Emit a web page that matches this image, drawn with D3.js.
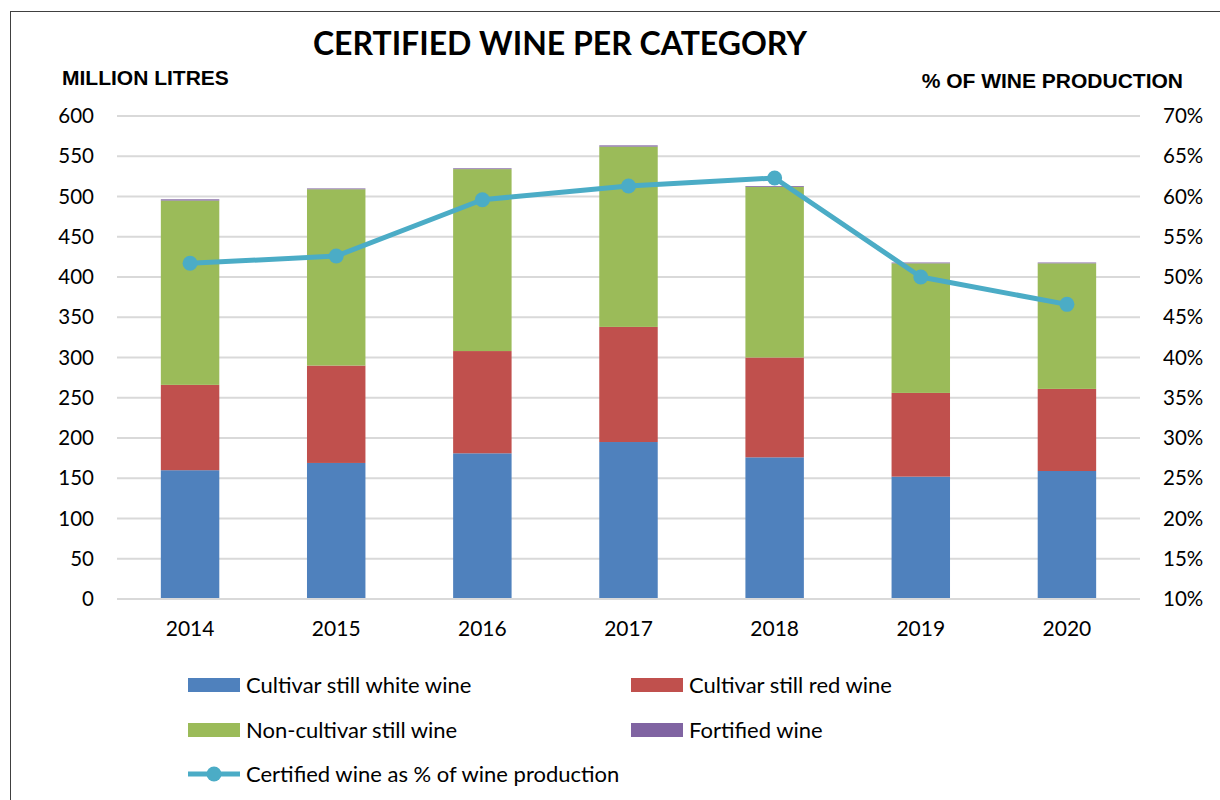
<!DOCTYPE html>
<html><head><meta charset="utf-8">
<script src="https://cdn.jsdelivr.net/npm/d3@7"></script>
<style>body{margin:0;background:#fff}svg{display:block}</style>
</head><body>
<svg id="c" width="1220" height="800"></svg>
<script>
const years = ["2014","2015","2016","2017","2018","2019","2020"];
const whiteWine = [160, 169, 181, 195, 176, 152, 159];
const redWine = [106, 121, 127, 143, 124, 104, 102];
const nonCultivar = [229, 219, 226, 224, 212, 161, 156];
const fortified = [1.5, 1, 1, 1.5, 1, 1, 1];
const pctProduction = [51.7, 52.6, 59.6, 61.3, 62.3, 50.0, 46.6];
const leftTicks = [0,50,100,150,200,250,300,350,400,450,500,550,600];
const rightTicks = [10,15,20,25,30,35,40,45,50,55,60,65,70];
const seriesNames = ["Cultivar still white wine","Cultivar still red wine","Non-cultivar still wine","Fortified wine"];
const seriesColors = ["#4f81bd","#c0504d","#9bbb59","#8064a2"];
const lineName = "Certified wine as % of wine production";
const lineColor = "#4bacc6";

(function(){
const svg = d3.select("#c");
const FONT = "Lato, 'Open Sans', sans-serif";
const pL = 117, pR = 1140, pT = 116, pB = 599;

svg.append("rect").attr("x",10.5).attr("y",11.5).attr("width",1230).attr("height",820)
  .attr("fill","none").attr("stroke","#404040").attr("stroke-width",1);

const x = d3.scaleBand().domain(years).range([pL,pR]).paddingInner(0.6).paddingOuter(0.3);
const y = d3.scaleLinear().domain([0,600]).range([pB,pT]);
const y2 = d3.scaleLinear().domain([10,70]).range([pB,pT]);

svg.append("g").selectAll("line").data(leftTicks).join("line")
  .attr("x1",pL).attr("x2",pR).attr("y1",d=>y(d)).attr("y2",d=>y(d))
  .attr("stroke","#d9d9d9").attr("stroke-width",2);

const gl = svg.append("g").attr("transform",`translate(${pL},0)`)
  .call(d3.axisLeft(y).tickValues(leftTicks).tickSize(0).tickPadding(23));
gl.select(".domain").remove();
gl.selectAll("text").attr("font-family",FONT).attr("font-size",20.5).attr("fill","#000");

const gr = svg.append("g").attr("transform",`translate(${pR},0)`)
  .call(d3.axisRight(y2).tickValues(rightTicks).tickSize(0).tickPadding(23).tickFormat(d=>d+"%"));
gr.select(".domain").remove();
gr.selectAll("text").attr("font-family",FONT).attr("font-size",20.5).attr("fill","#000");

const gb = svg.append("g").attr("transform",`translate(0,${pB})`)
  .call(d3.axisBottom(x).tickSize(0).tickPadding(22));
gb.select(".domain").remove();
gb.selectAll("text").attr("font-family",FONT).attr("font-size",21).attr("fill","#000");

const rows = years.map((yr,i)=>({year:yr, s0:whiteWine[i], s1:redWine[i], s2:nonCultivar[i], s3:fortified[i]}));
const stack = d3.stack().keys(["s0","s1","s2","s3"])(rows);
svg.append("g").selectAll("g").data(stack).join("g").attr("fill",(d,i)=>seriesColors[i])
  .selectAll("rect").data(d=>d).join("rect")
  .attr("x",d=>x(d.data.year)).attr("width",x.bandwidth())
  .attr("y",d=>y(d[1])).attr("height",d=>Math.max(0,y(d[0])-y(d[1])));

const cx = d => x(d)+x.bandwidth()/2;
svg.append("path").datum(years)
  .attr("d",d3.line().x(d=>cx(d)).y((d,i)=>y2(pctProduction[i])))
  .attr("fill","none").attr("stroke",lineColor).attr("stroke-width",5).attr("stroke-linejoin","round");
svg.append("g").selectAll("circle").data(years).join("circle")
  .attr("cx",d=>cx(d)).attr("cy",(d,i)=>y2(pctProduction[i])).attr("r",7.5).attr("fill",lineColor);

svg.append("line").attr("x1",pL).attr("x2",pR).attr("y1",pB).attr("y2",pB)
  .attr("stroke","#d9d9d9").attr("stroke-width",2);

svg.append("text").attr("x",560).attr("y",55).attr("text-anchor","middle")
  .attr("font-family",FONT).attr("font-weight","bold").attr("font-size",32).text("CERTIFIED WINE PER CATEGORY");
svg.append("text").attr("x",62).attr("y",85)
  .attr("font-family","'Liberation Sans', Arial, sans-serif").attr("font-weight","bold").attr("font-size",21).text("MILLION LITRES");
svg.append("text").attr("x",1183).attr("y",88).attr("text-anchor","end")
  .attr("font-family","'Liberation Sans', Arial, sans-serif").attr("font-weight","bold").attr("font-size",21).text("% OF WINE PRODUCTION");

const legPos = [[188,685],[631,685],[188,730],[631,730]];
const lg = svg.append("g");
seriesNames.forEach((n,i)=>{
  const [lx,ly] = legPos[i];
  lg.append("rect").attr("x",lx).attr("y",ly-7).attr("width",52).attr("height",14).attr("fill",seriesColors[i]);
  lg.append("text").attr("x",lx+58).attr("y",ly).attr("dy","0.35em")
    .attr("font-family",FONT).attr("font-size",22).text(n);
});
lg.append("line").attr("x1",188).attr("x2",240).attr("y1",774).attr("y2",774)
  .attr("stroke",lineColor).attr("stroke-width",5);
lg.append("circle").attr("cx",214).attr("cy",774).attr("r",7.5).attr("fill",lineColor);
lg.append("text").attr("x",246).attr("y",774).attr("dy","0.35em")
  .attr("font-family",FONT).attr("font-size",22).text(lineName);
})();
</script>
</body></html>
